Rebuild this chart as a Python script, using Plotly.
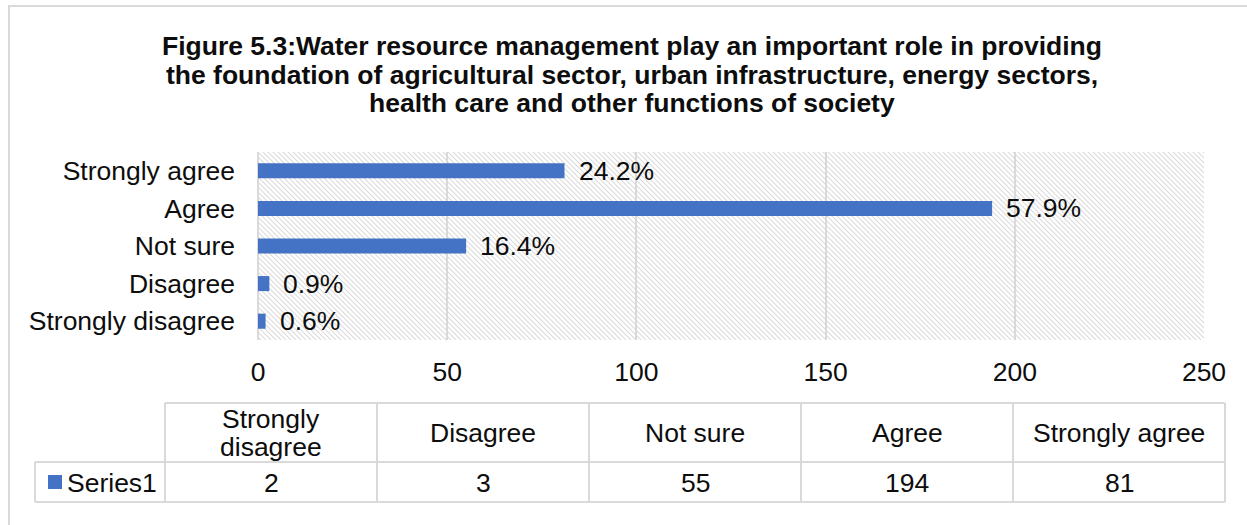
import base64
import plotly.graph_objects as go

# Survey responses (count of respondents per answer)
categories = ["Strongly disagree", "Disagree", "Not sure", "Agree", "Strongly agree"]
counts = [2, 3, 55, 194, 81]
series_name = "Series1"
table_headers = [["Strongly", "disagree"], ["Disagree"], ["Not sure"], ["Agree"], ["Strongly agree"]]
x_ticks = [0, 50, 100, 150, 200, 250]
title_lines = [
    "Figure 5.3:Water resource management play an important role in providing",
    "the foundation of agricultural sector, urban infrastructure, energy sectors,",
    "health care and other functions of society",
]

W, H = 1247, 525
PL, PR, PT, PB = 258, 1204, 152, 340   # plot area in pixels
BLUE = "#4472c4"
GRID = "#d9d9d9"
TXT = "#0d0d0d"
FONT = "Liberation Sans, Arial, sans-serif"
FS = 26.5


def px(x):
    return (x - PL) / (PR - PL)


def py(y):
    return (PB - y) / (PB - PT)


total = sum(counts)
shares = [f"{c / total * 100:.1f}%" for c in counts]

fig = go.Figure(
    go.Bar(
        x=counts,
        y=categories,
        orientation="h",
        marker=dict(color=BLUE, line=dict(width=0)),
        name=series_name,
        hoverinfo="x+y",
    )
)

annotations = []
for cat, c, s in zip(categories, counts, shares):
    annotations.append(dict(
        x=c, y=cat, xref="x", yref="y", text=s, showarrow=False,
        xanchor="left", yanchor="middle", xshift=12,
        font=dict(size=FS, color=TXT, family=FONT),
    ))

# title, one annotation per line
for i, line in enumerate(title_lines):
    annotations.append(dict(
        x=px(632), y=py(46 + i * 28.5), xref="paper", yref="paper",
        text=f"<b>{line}</b>", showarrow=False, xanchor="center", yanchor="middle",
        font=dict(size=FS, color=TXT, family=FONT),
    ))

# data table below the axis
col_edges = [165, 377, 589, 801, 1013, 1225]
row_top, row_mid, row_bot = 403, 462, 502
legend_left = 35

shapes = []


def hline(x0, x1, y):
    shapes.append(dict(type="line", xref="paper", yref="paper",
                       x0=px(x0), x1=px(x1), y0=py(y), y1=py(y),
                       line=dict(color=GRID, width=2)))


def vline(x, y0, y1):
    shapes.append(dict(type="line", xref="paper", yref="paper",
                       x0=px(x), x1=px(x), y0=py(y0), y1=py(y1),
                       line=dict(color=GRID, width=2)))


hline(col_edges[0], col_edges[-1], row_top)
hline(legend_left, col_edges[-1], row_mid)
hline(legend_left, col_edges[-1], row_bot)
for xe in col_edges:
    vline(xe, row_top, row_bot)
vline(legend_left, row_mid, row_bot)

line_gap = 28
for i, (hdr, c) in enumerate(zip(table_headers, counts)):
    cx = (col_edges[i] + col_edges[i + 1]) / 2
    cy = (row_top + row_mid) / 2
    for j, part in enumerate(hdr):
        yy = cy + (j - (len(hdr) - 1) / 2) * line_gap
        annotations.append(dict(
            x=px(cx), y=py(yy), xref="paper", yref="paper",
            text=part, showarrow=False, xanchor="center", yanchor="middle",
            font=dict(size=FS, color=TXT, family=FONT),
        ))
    annotations.append(dict(
        x=px(cx), y=py((row_mid + row_bot) / 2 + 1), xref="paper", yref="paper",
        text=str(c), showarrow=False, xanchor="center", yanchor="middle",
        font=dict(size=FS, color=TXT, family=FONT),
    ))

# legend key in the table
shapes.append(dict(type="rect", xref="paper", yref="paper",
                   x0=px(48), x1=px(62), y0=py(475), y1=py(489),
                   fillcolor=BLUE, line=dict(width=0)))
annotations.append(dict(
    x=px(65), y=py(483), xref="paper", yref="paper", text=series_name,
    showarrow=False, xanchor="left", yanchor="middle",
    font=dict(size=FS, color=TXT, family=FONT),
))

# chart border
shapes.append(dict(type="rect", xref="paper", yref="paper",
                   x0=px(9), x1=px(1300), y0=py(6), y1=py(600),
                   line=dict(color=GRID, width=2), fillcolor="rgba(0,0,0,0)"))

# diagonal hatch behind the plot area
pw, ph = PR - PL, PB - PT
svg = (
    f'<svg xmlns="http://www.w3.org/2000/svg" width="{pw}" height="{ph}">'
    '<defs><pattern id="h" width="5" height="5" patternUnits="userSpaceOnUse">'
    '<path d="M-1,-1 L6,6 M4,-1 L6,1 M-1,4 L1,6" stroke="#dcdcdc" stroke-width="1.2"/>'
    '</pattern></defs>'
    f'<rect width="{pw}" height="{ph}" fill="white"/>'
    f'<rect width="{pw}" height="{ph}" fill="url(#h)"/></svg>'
)
hatch_src = "data:image/svg+xml;base64," + base64.b64encode(svg.encode()).decode()

fig.update_layout(
    width=W, height=H,
    margin=dict(l=PL, r=W - PR, t=PT, b=H - PB),
    paper_bgcolor="white",
    plot_bgcolor="rgba(0,0,0,0)",
    showlegend=False,
    bargap=0.6,
    font=dict(family=FONT, size=FS, color=TXT),
    images=[dict(source=hatch_src, xref="paper", yref="paper", x=0, y=1,
                 sizex=1, sizey=1, sizing="stretch", layer="below",
                 xanchor="left", yanchor="top")],
    xaxis=dict(
        range=[0, 250], tickvals=x_ticks, showgrid=True, gridcolor=GRID, gridwidth=2,
        zeroline=True, zerolinecolor=GRID, zerolinewidth=2, showline=False,
        ticks="", ticklabelstandoff=13, tickfont=dict(size=FS, color=TXT, family=FONT),
        fixedrange=True,
    ),
    yaxis=dict(
        showgrid=False, zeroline=False, showline=False, ticks="",
        ticklabelstandoff=22, tickfont=dict(size=FS, color=TXT, family=FONT),
        fixedrange=True,
    ),
    annotations=annotations,
    shapes=shapes,
)

fig.write_html("out.html")
